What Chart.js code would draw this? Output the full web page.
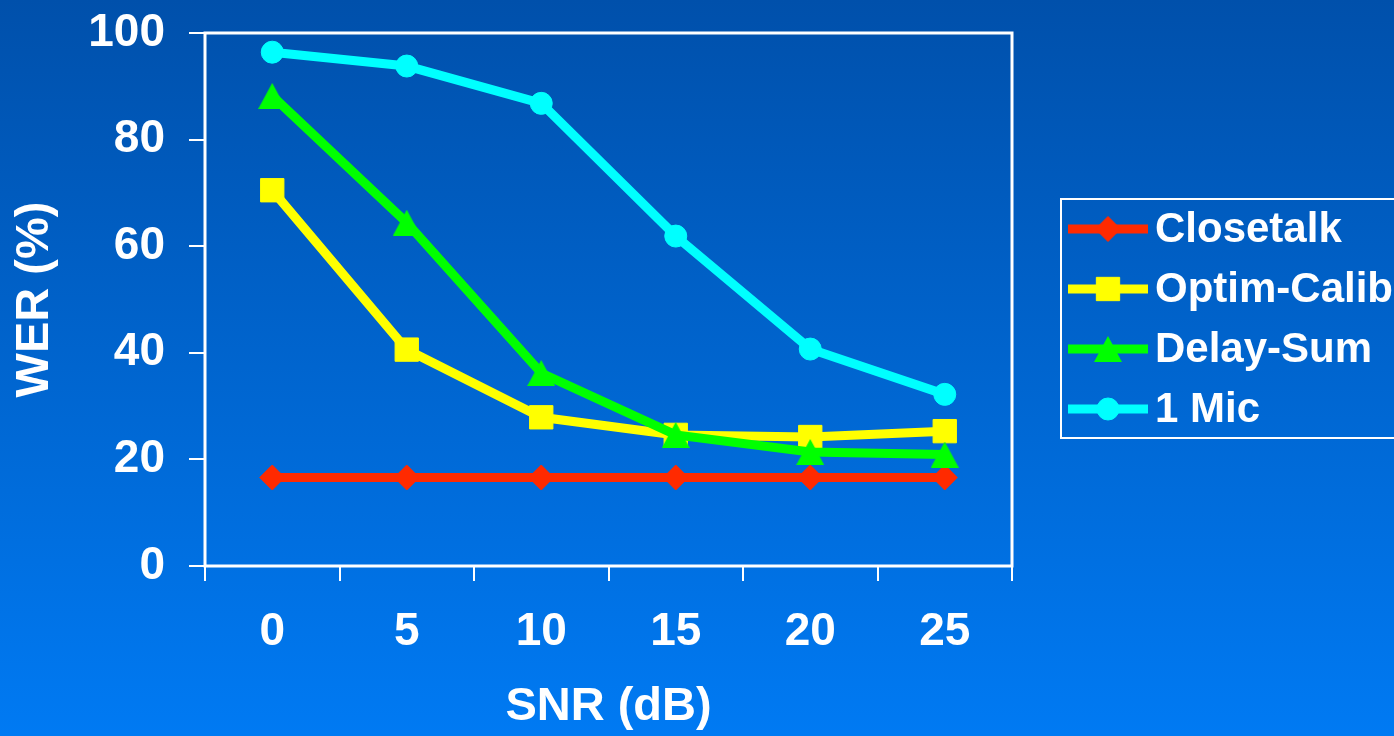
<!DOCTYPE html>
<html>
<head>
<meta charset="utf-8">
<title>WER vs SNR</title>
<script src="https://cdn.jsdelivr.net/npm/chart.js@4.4.1/dist/chart.umd.min.js"></script>
<style>
  html, body { margin: 0; padding: 0; overflow: hidden; background: #0064d0; }
  #wrap { width: 1394px; height: 736px; position: relative; }
  canvas { display: block; }
</style>
</head>
<body>
<div id="wrap"><canvas id="werChart" width="1394" height="736"></canvas></div>
<script>
// SNR categories (dB) and word error rates (%) per microphone setup
const snrLabels = ['0', '5', '10', '15', '20', '25'];
const closetalk  = [16.6, 16.6, 16.6, 16.6, 16.6, 16.6];
const optimCalib = [70.5, 40.6, 27.9, 24.6, 24.2, 25.3];
const delaySum   = [88.2, 64.4, 36.2, 24.6, 21.4, 20.9];
const oneMic     = [96.4, 93.8, 86.8, 61.9, 40.7, 32.2];
const seriesNames = ['Closetalk', 'Optim-Calib', 'Delay-Sum', '1 Mic'];
const werTicks = [0, 20, 40, 60, 80, 100];

const FONT = "'Liberation Sans', Arial, Helvetica, sans-serif";
Chart.defaults.font.family = FONT;
Chart.defaults.font.weight = 'bold';

// Upward triangle centred on its bounding box
function triangleMarker(color, w, h) {
  const c = document.createElement('canvas');
  c.width = w; c.height = h;
  const g = c.getContext('2d');
  g.fillStyle = color;
  g.beginPath();
  g.moveTo(w / 2, 0);
  g.lineTo(w, h);
  g.lineTo(0, h);
  g.closePath();
  g.fill();
  return c;
}

// Blue vertical gradient behind everything
const backdrop = {
  id: 'backdrop',
  beforeDraw(chart) {
    const { ctx, width, height } = chart;
    const g = ctx.createLinearGradient(0, 0, 0, height);
    g.addColorStop(0, '#0050ab');
    g.addColorStop(1, '#007af3');
    ctx.save();
    ctx.fillStyle = g;
    ctx.fillRect(0, 0, width, height);
    ctx.restore();
  }
};

// White frame around the plotting area
const plotFrame = {
  id: 'plotFrame',
  beforeDatasetsDraw(chart) {
    const { ctx, chartArea: a } = chart;
    ctx.save();
    ctx.strokeStyle = '#ffffff';
    ctx.lineWidth = 3;
    ctx.strokeRect(a.left, a.top, a.right - a.left, a.bottom - a.top);
    ctx.restore();
  }
};

// Boxed legend showing line + marker for each series
const boxLegend = {
  id: 'boxLegend',
  afterDraw(chart, args, o) {
    const { ctx } = chart;
    ctx.save();
    ctx.strokeStyle = '#ffffff';
    ctx.lineWidth = 2;
    ctx.strokeRect(o.left, o.top, o.width, o.height);
    chart.data.datasets.forEach((ds, i) => {
      const y = o.firstRow + i * o.rowGap;
      ctx.strokeStyle = ds.borderColor;
      ctx.lineWidth = ds.borderWidth;
      ctx.lineCap = 'butt';
      ctx.beginPath();
      ctx.moveTo(o.lineStart, y);
      ctx.lineTo(o.lineEnd, y);
      ctx.stroke();
      ctx.fillStyle = ds.pointBackgroundColor;
      ctx.strokeStyle = ds.pointBorderColor;
      ctx.lineWidth = 1;
      Chart.helpers.drawPoint(ctx, {
        pointStyle: ds.pointStyle,
        radius: ds.pointRadius,
        borderWidth: ds.pointBorderWidth,
        rotation: 0
      }, (o.lineStart + o.lineEnd) / 2, y);
      ctx.fillStyle = '#ffffff';
      ctx.font = 'bold ' + o.fontSize + 'px ' + FONT;
      ctx.textAlign = 'left';
      ctx.textBaseline = 'middle';
      ctx.fillText(ds.label, o.textX, y + 1);
    });
    ctx.restore();
  }
};

function series(label, data, color, style, radius, order) {
  return {
    label, data, order,
    borderColor: color,
    backgroundColor: color,
    borderWidth: 9,
    tension: 0,
    pointStyle: style,
    pointRadius: radius,
    pointHoverRadius: radius,
    pointBackgroundColor: color,
    pointBorderColor: color,
    pointBorderWidth: 1
  };
}

new Chart(document.getElementById('werChart'), {
  type: 'line',
  data: {
    labels: snrLabels,
    datasets: [
      series(seriesNames[0], closetalk,  '#ff2a00', 'rectRot', 12.5, 4),
      series(seriesNames[1], optimCalib, '#ffff00', 'rect', 16.5, 3),
      series(seriesNames[2], delaySum,   '#00ff00', triangleMarker('#00ff00', 28, 26), 14, 2),
      series(seriesNames[3], oneMic,     '#00ffff', 'circle', 11, 1)
    ]
  },
  options: {
    responsive: false,
    animation: false,
    events: [],
    layout: { padding: { top: 33, right: 382, bottom: 0, left: 0 } },
    plugins: {
      legend: { display: false },
      tooltip: { enabled: false },
      boxLegend: {
        left: 1061, top: 199, width: 400, height: 239,
        firstRow: 229, rowGap: 60,
        lineStart: 1068, lineEnd: 1148, textX: 1155, fontSize: 42
      }
    },
    scales: {
      x: {
        type: 'category',
        offset: true,
        grid: { offset: true, drawOnChartArea: false, drawTicks: true, tickLength: 15, color: '#ffffff', lineWidth: 2 },
        border: { display: false },
        ticks: { color: '#ffffff', font: { size: 46, weight: 'bold' }, padding: 24, maxRotation: 0, autoSkip: false },
        title: { display: true, text: 'SNR (dB)', color: '#ffffff', font: { size: 47, weight: 'bold' }, padding: { top: 0, bottom: 1 } },
        afterFit(s) { s.height = 170; s.paddingLeft = 0; s.paddingRight = 0; }
      },
      y: {
        min: 0,
        max: 100,
        afterBuildTicks(s) { s.ticks = werTicks.map(v => ({ value: v })); },
        grid: { drawOnChartArea: false, drawTicks: true, tickLength: 16, color: '#ffffff', lineWidth: 2 },
        border: { display: false },
        ticks: { color: '#ffffff', font: { size: 46, weight: 'bold' }, padding: 24 },
        title: { display: true, text: 'WER (%)', color: '#ffffff', font: { size: 47, weight: 'bold' }, padding: { top: 7, bottom: 0 } },
        afterFit(s) { s.width = 205; s.paddingTop = 0; s.paddingBottom = 0; }
      }
    }
  },
  plugins: [backdrop, plotFrame, boxLegend]
});
</script>
</body>
</html>
